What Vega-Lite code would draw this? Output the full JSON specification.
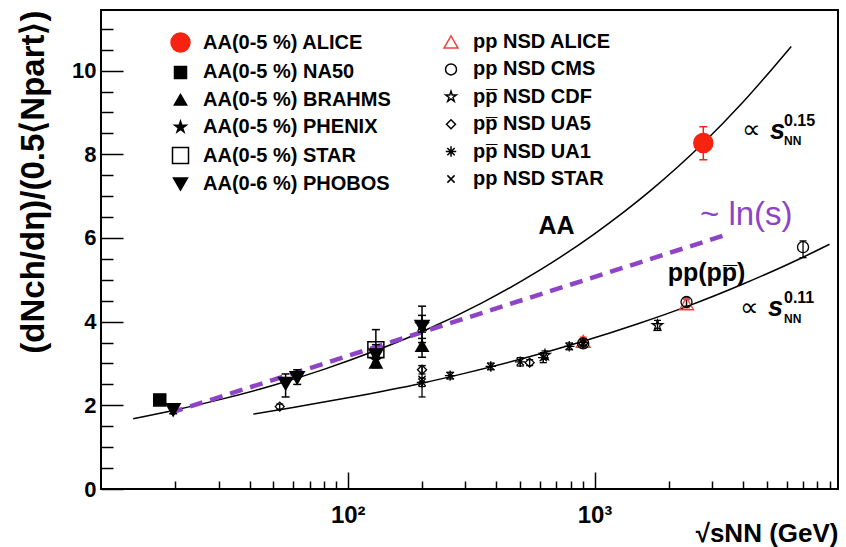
{
  "$schema": "https://vega.github.io/schema/vega-lite/v6.json",
  "width": 737,
  "height": 479,
  "autosize": {"type": "none"},
  "padding": {"left": 101, "top": 10, "right": 8, "bottom": 58},
  "background": "white",
  "config": {
    "font": "Liberation Sans",
    "view": {"stroke": "black", "strokeWidth": 2},
    "axis": {"grid": false, "domain": false, "labelColor": "black", "tickColor": "black", "titleColor": "black", "labelFont": "Liberation Sans", "titleFont": "Liberation Sans"},
    "legend": {"labelFont": "Liberation Sans", "labelFontSize": 20, "labelFontWeight": "bold", "labelColor": "black", "labelLimit": 500, "padding": 0, "rowPadding": 7.4, "labelOffset": 12, "symbolStrokeWidth": 1.5, "symbolOpacity": 1}
  },
  "datasets": {
    "aa": [
      {"x": 2760, "y": 8.27, "ylo": 7.87, "yhi": 8.66, "s": "AA(0-5 %) ALICE"},
      {"x": 17.3, "y": 2.13, "ylo": 2.03, "yhi": 2.23, "s": "AA(0-5 %) NA50"},
      {"x": 130, "y": 3.02, "ylo": 2.9, "yhi": 3.15, "s": "AA(0-5 %) BRAHMS"},
      {"x": 200, "y": 3.42, "ylo": 3.15, "yhi": 3.75, "s": "AA(0-5 %) BRAHMS"},
      {"x": 130, "y": 3.1, "ylo": 2.95, "yhi": 3.28, "s": "AA(0-5 %) PHENIX"},
      {"x": 200, "y": 3.92, "ylo": 3.5, "yhi": 4.37, "s": "AA(0-5 %) PHENIX"},
      {"x": 130, "y": 3.33, "ylo": 2.93, "yhi": 3.81, "s": "AA(0-5 %) STAR"},
      {"x": 19.6, "y": 1.89, "ylo": 1.8, "yhi": 1.98, "s": "AA(0-6 %) PHOBOS"},
      {"x": 56, "y": 2.52, "ylo": 2.2, "yhi": 2.75, "s": "AA(0-6 %) PHOBOS"},
      {"x": 62.4, "y": 2.66, "ylo": 2.5, "yhi": 2.85, "s": "AA(0-6 %) PHOBOS"},
      {"x": 130, "y": 3.2, "ylo": 3.0, "yhi": 3.45, "s": "AA(0-6 %) PHOBOS"},
      {"x": 200, "y": 3.88, "ylo": 3.6, "yhi": 4.15, "s": "AA(0-6 %) PHOBOS"}
    ],
    "pp": [
      {"x": 900, "y": 3.53, "ylo": 3.43, "yhi": 3.63, "s": "pp NSD  ALICE"},
      {"x": 2360, "y": 4.43, "ylo": 4.33, "yhi": 4.53, "s": "pp NSD  ALICE"},
      {"x": 900, "y": 3.48, "ylo": 3.38, "yhi": 3.58, "s": "pp NSD CMS"},
      {"x": 2360, "y": 4.47, "ylo": 4.37, "yhi": 4.57, "s": "pp NSD CMS"},
      {"x": 7000, "y": 5.78, "ylo": 5.53, "yhi": 5.93, "s": "pp NSD CMS"},
      {"x": 630, "y": 3.2, "ylo": 3.1, "yhi": 3.3, "s": "pp\u0305 NSD CDF"},
      {"x": 1800, "y": 3.91, "ylo": 3.79, "yhi": 4.03, "s": "pp\u0305 NSD CDF"},
      {"x": 53, "y": 1.97, "ylo": 1.91, "yhi": 2.03, "s": "pp\u0305 NSD UA5"},
      {"x": 200, "y": 2.85, "ylo": 2.75, "yhi": 2.95, "s": "pp\u0305 NSD UA5"},
      {"x": 546, "y": 3.02, "ylo": 2.95, "yhi": 3.09, "s": "pp\u0305 NSD UA5"},
      {"x": 900, "y": 3.48, "ylo": 3.42, "yhi": 3.54, "s": "pp\u0305 NSD UA5"},
      {"x": 200, "y": 2.55, "ylo": 2.45, "yhi": 2.65, "s": "pp\u0305 NSD UA1"},
      {"x": 260, "y": 2.71, "ylo": 2.63, "yhi": 2.79, "s": "pp\u0305 NSD UA1"},
      {"x": 380, "y": 2.93, "ylo": 2.85, "yhi": 3.01, "s": "pp\u0305 NSD UA1"},
      {"x": 500, "y": 3.04, "ylo": 2.94, "yhi": 3.14, "s": "pp\u0305 NSD UA1"},
      {"x": 620, "y": 3.14, "ylo": 3.02, "yhi": 3.26, "s": "pp\u0305 NSD UA1"},
      {"x": 790, "y": 3.41, "ylo": 3.33, "yhi": 3.49, "s": "pp\u0305 NSD UA1"},
      {"x": 900, "y": 3.5, "ylo": 3.42, "yhi": 3.58, "s": "pp\u0305 NSD UA1"},
      {"x": 200, "y": 2.62, "ylo": 2.2, "yhi": 2.95, "s": "pp NSD STAR"}
    ],
    "curveAA": [
      {"x": 13.5, "y": 1.68}, {"x": 20, "y": 1.89}, {"x": 30, "y": 2.13}, {"x": 50, "y": 2.48},
      {"x": 80, "y": 2.86}, {"x": 130, "y": 3.31}, {"x": 200, "y": 3.76}, {"x": 350, "y": 4.45},
      {"x": 600, "y": 5.23}, {"x": 1000, "y": 6.1}, {"x": 1700, "y": 7.15}, {"x": 2760, "y": 8.27},
      {"x": 4000, "y": 9.25}, {"x": 6270, "y": 10.58}
    ],
    "curvePP": [
      {"x": 41.4, "y": 1.79}, {"x": 60, "y": 1.95}, {"x": 100, "y": 2.18}, {"x": 200, "y": 2.53},
      {"x": 300, "y": 2.77}, {"x": 500, "y": 3.1}, {"x": 900, "y": 3.53}, {"x": 1500, "y": 3.95},
      {"x": 2360, "y": 4.36}, {"x": 4000, "y": 4.9}, {"x": 7000, "y": 5.54}, {"x": 8960, "y": 5.85}
    ],
    "lns": [
      {"x": 19.06, "y": 1.82}, {"x": 3470, "y": 6.09}
    ],
    "txtBig": [
      {"x": 702, "y": 6.29, "t": "AA"},
      {"x": 2845, "y": 5.16, "t": "pp(pp\u0305)"}
    ],
    "txtLn": [
      {"x": 4120, "y": 6.55, "t": "~ ln(s)"}
    ],
    "txtProp": [
      {"x": 3950, "y": 8.58, "t": "\u221d"},
      {"x": 3900, "y": 4.33, "t": "\u221d"}
    ],
    "txtS": [
      {"x": 5140, "y": 8.56, "t": "s"},
      {"x": 5050, "y": 4.33, "t": "s"}
    ],
    "txtSub": [
      {"x": 5860, "y": 8.32, "t": "NN"},
      {"x": 5860, "y": 4.07, "t": "NN"}
    ],
    "txtSup": [
      {"x": 5860, "y": 8.8, "t": "0.15"},
      {"x": 5860, "y": 4.57, "t": "0.11"}
    ]
  },
  "encoding": {
    "x": {"field": "x", "type": "quantitative", "scale": {"type": "log", "domain": [10, 9700], "nice": false}, "axis": null},
    "y": {"field": "y", "type": "quantitative", "scale": {"domain": [0, 11.45], "nice": false, "zero": false}, "axis": null}
  },
  "layer": [
    {
      "data": {"name": "curveAA"},
      "mark": {"type": "line", "color": "black", "strokeWidth": 1.5, "interpolate": "monotone"},
      "encoding": {
        "x": {"field": "x", "type": "quantitative", "scale": {"type": "log", "domain": [10, 9700], "nice": false},
          "axis": {"orient": "bottom", "values": [100, 1000], "labelExpr": "datum.value == 100 ? '10\u00b2' : '10\u00b3'", "tickSize": -17, "tickWidth": 1.5, "labelPadding": 31, "labelFontSize": 24, "labelFontWeight": "bold", "labelFlush": false,
            "title": "\u221asNN  (GeV)", "titleFontSize": 26, "titleFontWeight": "bold", "titleX": 737, "titleY": 44, "titleAlign": "right", "titleBaseline": "middle"}},
        "y": {"field": "y", "type": "quantitative", "scale": {"domain": [0, 11.45], "nice": false, "zero": false},
          "axis": {"orient": "left", "values": [0, 2, 4, 6, 8, 10], "format": "d", "tickSize": -22, "tickWidth": 1.5, "labelPadding": 27, "labelFontSize": 22, "labelFontWeight": "bold",
            "title": "(dNch/d\u03b7)/(0.5\u27e8Npart\u27e9)", "titleFontSize": 33, "titleFontWeight": "bold", "titleAngle": -90, "titleX": -68, "titleY": 0, "titleAlign": "right", "titleBaseline": "middle"}}
      }
    },
    {
      "data": {"name": "curvePP"},
      "mark": {"type": "line", "color": "black", "strokeWidth": 1.5, "interpolate": "monotone"},
      "encoding": {
        "x": {"field": "x", "type": "quantitative", "scale": {"type": "log", "domain": [10, 9700], "nice": false},
          "axis": {"orient": "bottom", "values": [20, 30, 40, 50, 60, 70, 80, 90, 200, 300, 400, 500, 600, 700, 800, 900, 2000, 3000, 4000, 5000, 6000, 7000, 8000, 9000], "tickSize": -8, "tickWidth": 1.5, "labels": false, "title": null}},
        "y": {"field": "y", "type": "quantitative", "scale": {"domain": [0, 11.45], "nice": false, "zero": false},
          "axis": {"orient": "left", "values": [0.5, 1, 1.5, 2.5, 3, 3.5, 4.5, 5, 5.5, 6.5, 7, 7.5, 8.5, 9, 9.5, 10.5, 11], "tickSize": -12, "tickWidth": 1.5, "labels": false, "title": null}}
      }
    },
    {
      "data": {"name": "lns"},
      "mark": {"type": "line", "color": "#8e44c8", "strokeWidth": 4.5, "strokeDash": [13, 8]},
      "encoding": {}
    },
    {
      "data": {"name": "aa"},
      "transform": [{"filter": "isValid(datum.ylo)"}],
      "mark": {"type": "rule", "strokeWidth": 1.5},
      "encoding": {
        "y": {"field": "ylo", "type": "quantitative", "scale": {"domain": [0, 11.45], "nice": false, "zero": false}, "axis": null},
        "y2": {"field": "yhi"},
        "stroke": {"field": "s", "type": "nominal", "legend": null, "scale": {"domain": ["AA(0-5 %) ALICE", "AA(0-5 %) NA50", "AA(0-5 %) BRAHMS", "AA(0-5 %) PHENIX", "AA(0-5 %) STAR", "AA(0-6 %) PHOBOS"], "range": ["#f5230f", "black", "black", "black", "black", "black"]}}
      }
    },
    {
      "data": {"name": "aa"},
      "transform": [{"filter": "isValid(datum.ylo)"}, {"fold": ["ylo", "yhi"], "as": ["k", "v"]}],
      "mark": {"type": "tick", "orient": "horizontal", "size": 8, "thickness": 1.5, "opacity": 1},
      "encoding": {
        "y": {"field": "v", "type": "quantitative", "scale": {"domain": [0, 11.45], "nice": false, "zero": false}, "axis": null},
        "color": {"field": "s", "type": "nominal", "legend": null, "scale": {"domain": ["AA(0-5 %) ALICE", "AA(0-5 %) NA50", "AA(0-5 %) BRAHMS", "AA(0-5 %) PHENIX", "AA(0-5 %) STAR", "AA(0-6 %) PHOBOS"], "range": ["#f5230f", "black", "black", "black", "black", "black"]}}
      }
    },
    {
      "data": {"name": "pp"},
      "transform": [{"filter": "isValid(datum.ylo)"}],
      "mark": {"type": "rule", "strokeWidth": 1.3},
      "encoding": {
        "y": {"field": "ylo", "type": "quantitative", "scale": {"domain": [0, 11.45], "nice": false, "zero": false}, "axis": null},
        "y2": {"field": "yhi"},
        "stroke": {"field": "s", "type": "nominal", "legend": null, "scale": {"domain": ["pp NSD  ALICE", "pp NSD CMS", "pp\u0305 NSD CDF", "pp\u0305 NSD UA5", "pp\u0305 NSD UA1", "pp NSD STAR"], "range": ["#e8453c", "black", "black", "black", "black", "black"]}}
      }
    },
    {
      "data": {"name": "pp"},
      "transform": [{"filter": "isValid(datum.ylo)"}, {"fold": ["ylo", "yhi"], "as": ["k", "v"]}],
      "mark": {"type": "tick", "orient": "horizontal", "size": 7, "thickness": 1.3, "opacity": 1},
      "encoding": {
        "y": {"field": "v", "type": "quantitative", "scale": {"domain": [0, 11.45], "nice": false, "zero": false}, "axis": null},
        "color": {"field": "s", "type": "nominal", "legend": null, "scale": {"domain": ["pp NSD  ALICE", "pp NSD CMS", "pp\u0305 NSD CDF", "pp\u0305 NSD UA5", "pp\u0305 NSD UA1", "pp NSD STAR"], "range": ["#e8453c", "black", "black", "black", "black", "black"]}}
      }
    },
    {
      "data": {"name": "aa"},
      "mark": {"type": "point", "filled": true, "opacity": 1, "strokeWidth": 1.5},
      "encoding": {
        "shape": {"field": "s", "type": "nominal", "legend": {"orient": "none", "legendX": 69, "legendY": 22, "title": null},
          "scale": {"domain": ["AA(0-5 %) ALICE", "AA(0-5 %) NA50", "AA(0-5 %) BRAHMS", "AA(0-5 %) PHENIX", "AA(0-5 %) STAR", "AA(0-6 %) PHOBOS"],
            "range": ["circle", "square", "triangle-up", "M0,-1L0.2245,-0.309L0.951,-0.309L0.363,0.118L0.588,0.809L0,0.382L-0.588,0.809L-0.363,0.118L-0.951,-0.309L-0.2245,-0.309Z", "square", "triangle-down"]}},
        "fill": {"field": "s", "type": "nominal", "legend": {"orient": "none", "legendX": 69, "legendY": 22, "title": null},
          "scale": {"domain": ["AA(0-5 %) ALICE", "AA(0-5 %) NA50", "AA(0-5 %) BRAHMS", "AA(0-5 %) PHENIX", "AA(0-5 %) STAR", "AA(0-6 %) PHOBOS"],
            "range": ["#f5230f", "black", "black", "black", "transparent", "black"]}},
        "stroke": {"field": "s", "type": "nominal", "legend": {"orient": "none", "legendX": 69, "legendY": 22, "title": null},
          "scale": {"domain": ["AA(0-5 %) ALICE", "AA(0-5 %) NA50", "AA(0-5 %) BRAHMS", "AA(0-5 %) PHENIX", "AA(0-5 %) STAR", "AA(0-6 %) PHOBOS"],
            "range": ["#f5230f", "black", "black", "black", "black", "black"]}},
        "size": {"field": "s", "type": "nominal", "legend": {"orient": "none", "legendX": 69, "legendY": 22, "title": null},
          "scale": {"type": "ordinal", "domain": ["AA(0-5 %) ALICE", "AA(0-5 %) NA50", "AA(0-5 %) BRAHMS", "AA(0-5 %) PHENIX", "AA(0-5 %) STAR", "AA(0-6 %) PHOBOS"],
            "range": [361, 144, 150, 144, 256, 196]}}
      }
    },
    {
      "data": {"name": "pp"},
      "mark": {"type": "point", "filled": true, "opacity": 1, "strokeWidth": 1.3},
      "encoding": {
        "shape": {"field": "s", "type": "nominal", "legend": {"orient": "none", "legendX": 340, "legendY": 22, "title": null},
          "scale": {"domain": ["pp NSD  ALICE", "pp NSD CMS", "pp\u0305 NSD CDF", "pp\u0305 NSD UA5", "pp\u0305 NSD UA1", "pp NSD STAR"],
            "range": ["triangle-up", "circle", "M0,-1L0.2245,-0.309L0.951,-0.309L0.363,0.118L0.588,0.809L0,0.382L-0.588,0.809L-0.363,0.118L-0.951,-0.309L-0.2245,-0.309Z", "diamond", "M-1,0L1,0M0,-1L0,1M-0.7,-0.7L0.7,0.7M-0.7,0.7L0.7,-0.7", "M-0.8,-0.8L0.8,0.8M-0.8,0.8L0.8,-0.8"]}},
        "fill": {"field": "s", "type": "nominal", "legend": {"orient": "none", "legendX": 340, "legendY": 22, "title": null},
          "scale": {"domain": ["pp NSD  ALICE", "pp NSD CMS", "pp\u0305 NSD CDF", "pp\u0305 NSD UA5", "pp\u0305 NSD UA1", "pp NSD STAR"],
            "range": ["transparent", "transparent", "transparent", "transparent", "transparent", "transparent"]}},
        "stroke": {"field": "s", "type": "nominal", "legend": {"orient": "none", "legendX": 340, "legendY": 22, "title": null},
          "scale": {"domain": ["pp NSD  ALICE", "pp NSD CMS", "pp\u0305 NSD CDF", "pp\u0305 NSD UA5", "pp\u0305 NSD UA1", "pp NSD STAR"],
            "range": ["#f0453c", "black", "black", "black", "black", "black"]}},
        "size": {"field": "s", "type": "nominal", "legend": {"orient": "none", "legendX": 340, "legendY": 22, "title": null},
          "scale": {"type": "ordinal", "domain": ["pp NSD  ALICE", "pp NSD CMS", "pp\u0305 NSD CDF", "pp\u0305 NSD UA5", "pp\u0305 NSD UA1", "pp NSD STAR"],
            "range": [196, 121, 121, 81, 110, 81]}}
      }
    },
    {
      "data": {"name": "txtBig"},
      "mark": {"type": "text", "fontSize": 25, "fontWeight": "bold", "align": "center", "baseline": "middle", "color": "black"},
      "encoding": {"text": {"field": "t"}}
    },
    {
      "data": {"name": "txtLn"},
      "mark": {"type": "text", "fontSize": 33, "align": "center", "baseline": "middle", "color": "#8e44c8"},
      "encoding": {"text": {"field": "t"}}
    },
    {
      "data": {"name": "txtProp"},
      "mark": {"type": "text", "fontSize": 26, "align": "left", "baseline": "middle", "color": "black"},
      "encoding": {"text": {"field": "t"}}
    },
    {
      "data": {"name": "txtS"},
      "mark": {"type": "text", "fontSize": 27, "fontWeight": "bold", "fontStyle": "italic", "align": "left", "baseline": "middle", "color": "black"},
      "encoding": {"text": {"field": "t"}}
    },
    {
      "data": {"name": "txtSub"},
      "mark": {"type": "text", "fontSize": 12, "fontWeight": "bold", "align": "left", "baseline": "middle", "color": "black"},
      "encoding": {"text": {"field": "t"}}
    },
    {
      "data": {"name": "txtSup"},
      "mark": {"type": "text", "fontSize": 16, "fontWeight": "bold", "align": "left", "baseline": "middle", "color": "black"},
      "encoding": {"text": {"field": "t"}}
    }
  ],
  "resolve": {
    "axis": {"x": "independent", "y": "independent"},
    "scale": {"shape": "independent", "fill": "independent", "stroke": "independent", "size": "independent", "color": "independent"},
    "legend": {"shape": "independent", "fill": "independent", "stroke": "independent", "size": "independent", "color": "independent"}
  }
}
